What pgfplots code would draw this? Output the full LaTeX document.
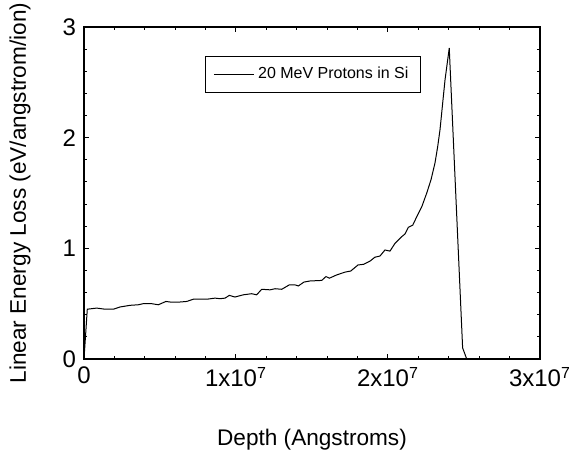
\documentclass[border=0pt]{standalone}
\usepackage{pgfplots}
\pgfplotsset{compat=1.18}
\usepackage{fontspec}
\setmainfont{Liberation Sans}
\begin{document}
\begin{tikzpicture}
\useasboundingbox (-42pt,-51pt) rectangle (242.5pt,179.5pt);
\begin{axis}[
  at={(0,0)}, anchor=south west,
  scale only axis, width=228pt, height=166pt,
  xmin=0, xmax=3e7, ymin=0, ymax=3,
  xtick={0,1e7,2e7,3e7},
  xticklabels={0,{1x10\textsuperscript{7}},{2x10\textsuperscript{7}},{3x10\textsuperscript{7}}},
  ytick={0,1,2,3},
  yticklabels={0,1,2,3},
  minor x tick num=4, minor y tick num=4,
  tick align=inside,
  major tick length=2.5pt, minor tick length=1.5pt,
  tick style={black, line width=0.5pt},
  axis line style={line width=0.9pt},
  scaled x ticks=false,
  tick label style={font=\fontsize{12}{14}\selectfont},
  label style={font=\fontsize{11.3}{13}\selectfont},
  xticklabel style={yshift=-0.5pt},
  yticklabel style={xshift=-0.5pt},
  xlabel={Depth (Angstroms)},
  ylabel={Linear Energy Loss (eV/angstrom/ion)},
  xlabel style={at={(axis description cs:0.5,0)}, anchor=center, yshift=-40.5pt},
  ylabel style={at={(axis description cs:0,0.5)}, anchor=center, yshift=32pt},
  legend style={at={(axis description cs:0.265,0.913)}, anchor=north west,
    draw=black, line width=0.5pt, font=\fontsize{8}{9.5}\selectfont,
    inner xsep=4pt, inner ysep=3.5pt},
  legend cell align=left,
  legend image code/.code={\draw[#1] (0cm,0cm) -- (0.7cm,0cm);},
]
\addplot[black, line width=0.5pt, mark=none] coordinates {
(0,0)
(0.0217e7,0.45)
(0.0836e7,0.46)
(0.138e7,0.45)
(0.193e7,0.45)
(0.237e7,0.47)
(0.303e7,0.485)
(0.357e7,0.49)
(0.390e7,0.50)
(0.445e7,0.50)
(0.489e7,0.49)
(0.539e7,0.52)
(0.566e7,0.515)
(0.632e7,0.515)
(0.676e7,0.52)
(0.719e7,0.54)
(0.807e7,0.54)
(0.862e7,0.55)
(0.895e7,0.545)
(0.928e7,0.55)
(0.956e7,0.575)
(0.993e7,0.56)
(1.048e7,0.58)
(1.103e7,0.59)
(1.136e7,0.58)
(1.169e7,0.63)
(1.224e7,0.625)
(1.257e7,0.635)
(1.301e7,0.63)
(1.351e7,0.67)
(1.388e7,0.67)
(1.410e7,0.66)
(1.447e7,0.695)
(1.487e7,0.705)
(1.564e7,0.71)
(1.592e7,0.745)
(1.614e7,0.73)
(1.663e7,0.76)
(1.717e7,0.785)
(1.755e7,0.795)
(1.803e7,0.85)
(1.838e7,0.855)
(1.882e7,0.885)
(1.914e7,0.92)
(1.947e7,0.93)
(1.980e7,0.985)
(2.013e7,0.975)
(2.046e7,1.045)
(2.090e7,1.105)
(2.112e7,1.13)
(2.134e7,1.19)
(2.163e7,1.21)
(2.189e7,1.285)
(2.222e7,1.375)
(2.255e7,1.50)
(2.283e7,1.62)
(2.309e7,1.77)
(2.327e7,1.92)
(2.342e7,2.07)
(2.375e7,2.52)
(2.403e7,2.81)
(2.491e7,0.10)
(2.518e7,0)
};
\addlegendentry{20 MeV Protons in Si}
\end{axis}
\end{tikzpicture}
\end{document}
